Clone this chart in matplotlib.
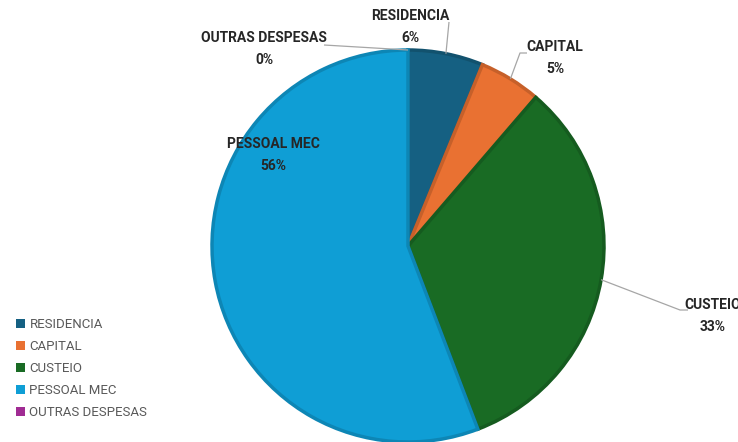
import matplotlib
matplotlib.use("Agg")
import matplotlib.pyplot as plt
import matplotlib.colors as mcolors
from matplotlib.patches import Patch
import numpy as np

# dados (percentuais)
categorias = ['RESIDENCIA', 'CAPITAL', 'CUSTEIO', 'PESSOAL MEC', 'OUTRAS DESPESAS']
valores = [6.2, 5.1, 32.9, 55.8, 0.0]
cores = ['#156082', '#E97132', '#196B24', '#0F9ED5', '#A02B93']

plt.rcParams['font.family'] = ['Liberation Sans Narrow', 'Roboto', 'DejaVu Sans']

fig = plt.figure(figsize=(7.38, 4.42), dpi=100)
ax = fig.add_axes([0, 0, 1, 1])

cx, cy, r = 408, 196, 196
bordas = [mcolors.to_hex(np.array(mcolors.to_rgb(c)) * 0.85) for c in cores]
wedges, _ = ax.pie(valores, colors=cores, startangle=90, counterclock=False,
                   center=(cx, cy), radius=r, frame=True,
                   wedgeprops=dict(linewidth=2.5, edgecolor='none'))
for w, b, v in zip(wedges, bordas, valores):
    w.set_edgecolor(b if v > 0 else 'none')
ax.set_xlim(0, 738)
ax.set_ylim(0, 442)
ax.set_aspect('equal')
ax.axis('off')

# ângulos médios de cada fatia
total = sum(valores)
acum = np.cumsum([0] + valores[:-1])
meio = [90 - 360 * (a + v / 2) / total for a, v in zip(acum, valores)]
pct = [f"{round(v / total * 100):.0f}%" for v in valores]

# posição dos rótulos (texto) e quebra da linha guia
rotulos = {
    'RESIDENCIA': dict(xy=(410, 415), quebra=[(449, 420)]),
    'CAPITAL': dict(xy=(555, 384), quebra=[(520, 389), (527, 389)]),
    'CUSTEIO': dict(xy=(713, 126), quebra=[(680, 132), (688, 132)]),
    'OUTRAS DESPESAS': dict(xy=(264, 393), quebra=[(324, 397)]),
    'PESSOAL MEC': dict(xy=(273, 287), quebra=None),
}

cor_txt = '#262626'
for nome, ang, p in zip(categorias, meio, pct):
    info = rotulos[nome]
    tx, ty = info['xy']
    ax.text(tx, ty, nome + '\n' + p, ha='center', va='center', fontsize=10,
            fontweight='bold', color=cor_txt, linespacing=1.65)
    if info['quebra']:
        px = cx + r * np.cos(np.radians(ang))
        py = cy + r * np.sin(np.radians(ang))
        xs = [px] + [q[0] for q in info['quebra']]
        ys = [py] + [q[1] for q in info['quebra']]
        ax.plot(xs, ys, color='#a6a6a6', lw=0.9, solid_capstyle='butt')

handles = [Patch(facecolor=c, edgecolor='none') for c in cores]
leg = fig.legend(handles, categorias, loc='lower left', bbox_to_anchor=(0.005, 0.025),
                 frameon=False, fontsize=9.5, handlelength=0.75, handleheight=0.75,
                 handletextpad=0.3, labelspacing=0.68, labelcolor='#595959')

fig.savefig('out.png', dpi=100)
